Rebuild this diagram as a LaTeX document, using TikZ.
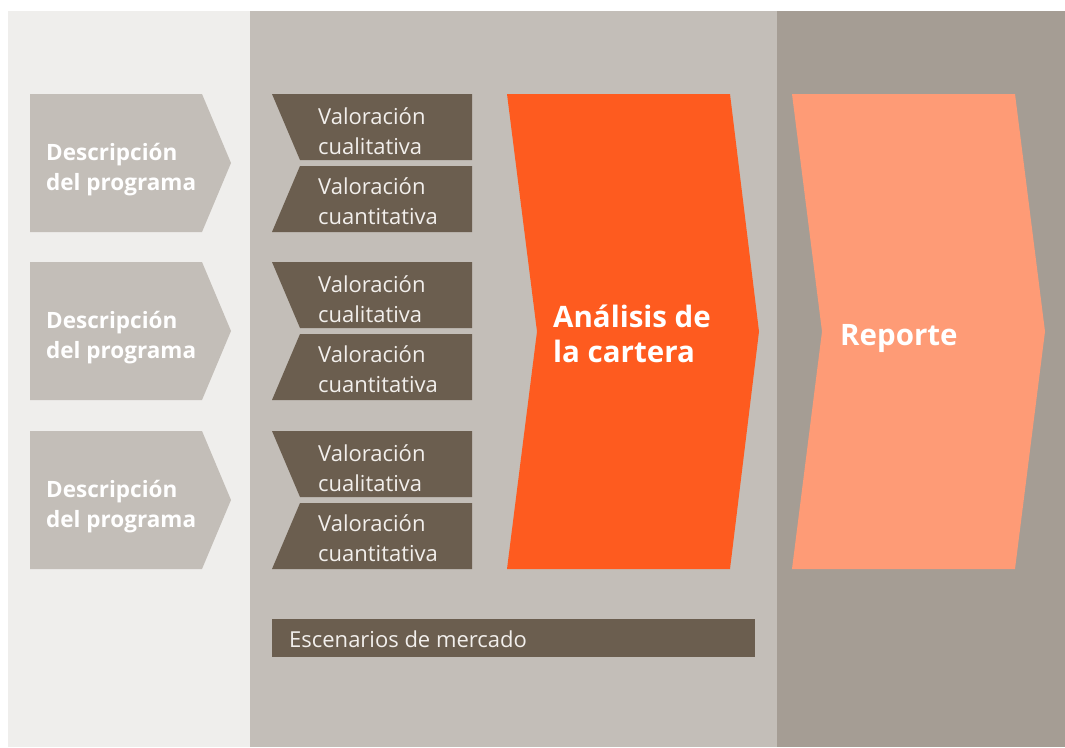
\documentclass[tikz,border=0pt]{standalone}
\usepackage{fontspec}
\setmainfont{Open Sans}
\usepackage{tikz}
\usetikzlibrary{positioning}
\definecolor{leftpanel}{HTML}{EFEEEC}
\definecolor{midpanel}{HTML}{C3BEB8}
\definecolor{rightpanel}{HTML}{A59D94}
\definecolor{darkbox}{HTML}{6B5E4F}
\definecolor{orangebox}{HTML}{FE5B1F}
\definecolor{salmonbox}{HTML}{FE9B76}
\definecolor{lighttext}{HTML}{F2EFEC}
\tikzstyle{desc} = [anchor=base west, inner sep=0pt, align=left, text=white,
    font=\fontsize{22.5}{30}\selectfont\bfseries]
\tikzstyle{valor} = [anchor=base west, inner sep=0pt, align=left, text=lighttext,
    font=\fontsize{22}{30}\selectfont]
\tikzstyle{big} = [anchor=base west, inner sep=0pt, align=left, text=white,
    font=\fontsize{29.5}{35}\selectfont\bfseries]

\begin{document}
\begin{tikzpicture}[x=1pt, y=-1pt]
    \useasboundingbox (0,0) rectangle (1065,747);
    % We start with the three background panels
    \fill[leftpanel] (8,11) rectangle (250,747);
    \fill[midpanel] (250,11) rectangle (777,747);
    \fill[rightpanel] (777,11) rectangle (1065,747);

    % Program description chevrons (text anchored on its last line)
    \fill[midpanel] (30,94) -- (202,94) -- (231,163) -- (202,232) -- (30,232) -- cycle;
    \fill[midpanel] (30,262) -- (202,262) -- (231,331) -- (202,400) -- (30,400) -- cycle;
    \fill[midpanel] (30,431) -- (202,431) -- (231,500) -- (202,569) -- (30,569) -- cycle;
    \node [desc] (desc1) at (46,190) {Descripción\\del programa};
    \node [desc] (desc2) at (46,358) {Descripción\\del programa};
    \node [desc] (desc3) at (46,527) {Descripción\\del programa};

    % Valuation boxes, two per program
    \fill[darkbox] (272,94) -- (472,94) -- (472,160) -- (300,160) -- cycle;
    \fill[darkbox] (300,166) -- (472,166) -- (472,232) -- (272,232) -- cycle;
    \fill[darkbox] (272,262) -- (472,262) -- (472,328) -- (300,328) -- cycle;
    \fill[darkbox] (300,334) -- (472,334) -- (472,400) -- (272,400) -- cycle;
    \fill[darkbox] (272,431) -- (472,431) -- (472,497) -- (300,497) -- cycle;
    \fill[darkbox] (300,503) -- (472,503) -- (472,569) -- (272,569) -- cycle;
    \node [valor] (qual1) at (318,154) {Valoración\\cualitativa};
    \node [valor] (quant1) at (318,224) {Valoración\\cuantitativa};
    \node [valor] (qual2) at (318,322) {Valoración\\cualitativa};
    \node [valor] (quant2) at (318,392) {Valoración\\cuantitativa};
    \node [valor] (qual3) at (318,491) {Valoración\\cualitativa};
    \node [valor] (quant3) at (318,561) {Valoración\\cuantitativa};

    % Portfolio analysis and report
    \fill[orangebox] (507,94) -- (730,94) -- (759,331.5) -- (730,569) -- (507,569) -- (537,331.5) -- cycle;
    \node [big] (analisis) at (553,362) {Análisis de\\la cartera};
    \fill[salmonbox] (792,94) -- (1015,94) -- (1045,331.5) -- (1015,569) -- (792,569) -- (822,331.5) -- cycle;
    \node [big] (reporte) at (840,345) {Reporte};

    % Market scenarios bar
    \fill[darkbox] (272,619) rectangle (755,657);
    \node [valor] (escenarios) at (289,647) {Escenarios de mercado};
\end{tikzpicture}
\end{document}
